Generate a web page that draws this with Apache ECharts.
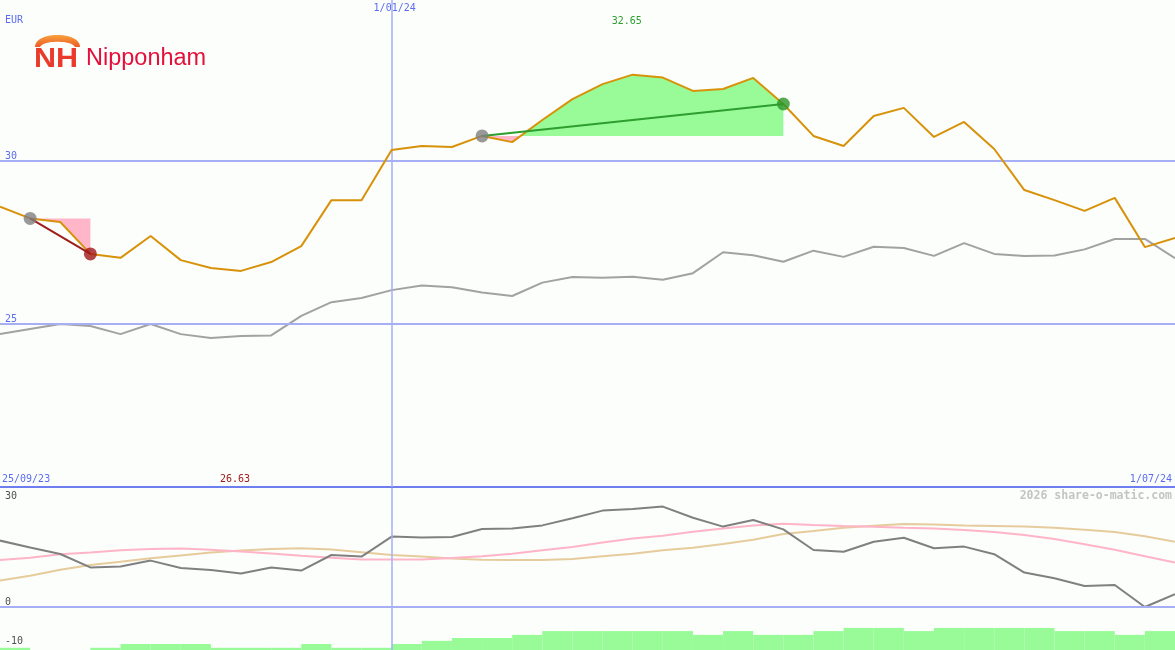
<!DOCTYPE html>
<html><head><meta charset="utf-8">
<script src="https://cdn.jsdelivr.net/npm/echarts@6/dist/echarts.min.js"></script>
<style>html,body{margin:0;padding:0;background:#fbfefb;overflow:hidden}#c{width:1175px;height:650px}</style>
</head><body><div id="c"></div>
<script>
// ---------- data ----------
const currency = 'EUR';
const companyName = 'Nipponham';
const logoMark = 'NH';
const watermark = '2026 share-o-matic.com';
const dateLabels = ['25/09/23', '1/01/24', '1/07/24'];
const dateLabelIdx = [0, 13, 39];
const mainTicks = [25, 30];
const lowerTicks = [30, 0, -10];
// weekly closing price (EUR)
const price = [28.60, 28.24, 28.13, 27.15, 27.03, 27.70, 26.96, 26.72, 26.63, 26.90,
  27.39, 28.80, 28.80, 30.34, 30.46, 30.43, 30.77, 30.58, 31.26, 31.90,
  32.36, 32.65, 32.56, 32.15, 32.21, 32.55, 31.75, 30.77, 30.46, 31.38,
  31.63, 30.74, 31.20, 30.37, 29.11, 28.80, 28.47, 28.87, 27.36, 27.64];
// comparison line (grey)
const benchmark = [24.69, 24.85, 25.00, 24.94, 24.69, 25.00, 24.69, 24.57, 24.63, 24.65,
  25.25, 25.67, 25.80, 26.04, 26.18, 26.13, 25.97, 25.86, 26.27, 26.44,
  26.42, 26.45, 26.36, 26.56, 27.20, 27.11, 26.91, 27.25, 27.06, 27.37,
  27.33, 27.09, 27.48, 27.15, 27.09, 27.10, 27.29, 27.61, 27.61, 27.02];
// lower panel oscillator and its averages
const oscillator = [16.6, 14.9, 13.25, 9.9, 10.1, 11.6, 9.75, 9.25, 8.4, 9.9,
  9.1, 13.0, 12.6, 17.6, 17.4, 17.5, 19.5, 19.6, 20.4, 22.2,
  24.1, 24.5, 25.1, 22.3, 20.1, 21.75, 19.4, 14.25, 13.8, 16.3,
  17.3, 14.7, 15.1, 13.2, 8.6, 7.2, 5.25, 5.5, 0.0, 3.2];
const oscAvgFast = [11.75, 12.3, 13.2, 13.6, 14.2, 14.5, 14.6, 14.3, 13.9, 13.4,
  12.8, 12.3, 11.9, 11.9, 11.9, 12.25, 12.7, 13.3, 14.2, 15.0,
  16.1, 17.1, 17.8, 18.8, 19.6, 20.4, 20.8, 20.5, 20.25, 20.05,
  19.8, 19.6, 19.25, 18.75, 18.0, 17.0, 15.7, 14.3, 12.7, 11.1];
const oscAvgSlow = [6.6, 7.8, 9.3, 10.5, 11.3, 12.2, 12.9, 13.6, 14.1, 14.5,
  14.7, 14.4, 13.7, 13.0, 12.6, 12.1, 11.8, 11.75, 11.75, 12.0,
  12.7, 13.3, 14.2, 14.8, 15.75, 16.8, 18.25, 19.0, 19.8, 20.3,
  20.75, 20.6, 20.4, 20.25, 20.1, 19.8, 19.3, 18.75, 17.7, 16.3];
// green strength bars, one per week interval
const strength = [0.7, 0, 0, 0.7, 1.9, 1.9, 1.9, 0.7, 0.7, 0.7,
  1.9, 0.7, 0.7, 1.9, 2.9, 3.8, 3.8, 4.8, 6, 6,
  6, 6, 6, 4.8, 6, 4.8, 4.8, 6, 7, 7,
  6, 7, 7, 7, 7, 6, 6, 4.8, 6];
// trades (start week, end week)
const tradeStart = [1, 16];
const tradeEnd = [3, 26];

// ---------- styles ----------
const C = {
  bg: '#fbfefb', price: '#d8920a', bench: '#a2a2a2', osc: '#808080', fast: '#ffb4c8', slow: '#e6cc9c',
  grid: '#a6aef4', border: '#6e7ef0', blueText: '#5c6cf0', darkText: '#505050',
  gainFill: '#98fb98', lossFill: '#ffb6c8', gainLine: '#2e9e2e', lossLine: '#a01c1c',
  startMark: '#808080', gainMark: '#2a962a', lossMark: '#a01818', bars: '#98fb98'
};
const MONO = "'DejaVu Sans Mono', monospace";

const chart = echarts.init(document.getElementById('c'), null, {renderer: 'canvas'});
const pts = arr => arr.map((v, i) => [i, v]);

function tradeSegments(s, e) {
  const base = price[s];
  const segs = [];
  let cur = [[s, base]];
  for (let i = s + 1; i <= e; i++) {
    const p = price[i - 1] - base, d = price[i] - base;
    if (p !== 0 && d !== 0 && Math.sign(p) !== Math.sign(d)) {
      const cx = i - 1 + p / (p - d);
      cur.push([cx, base]);
      segs.push(cur);
      cur = [[cx, base]];
    }
    cur.push([i, price[i]]);
  }
  segs.push(cur);
  return segs.map(seg => {
    const sum = seg.reduce((a, q) => a + (q[1] - base), 0);
    return {data: seg, base, gain: sum > 0};
  });
}

const series = [];
series.push({type: 'bar', xAxisIndex: 2, yAxisIndex: 2, data: strength, barCategoryGap: '0%', barGap: '0%',
  itemStyle: {color: C.bars}, silent: true, z: 1});
series.push({type: 'line', xAxisIndex: 1, yAxisIndex: 1, data: pts(oscAvgSlow), showSymbol: false,
  lineStyle: {color: C.slow, width: 2}, z: 2,
  markLine: {silent: true, symbol: 'none', label: {show: false}, animation: false,
    data: [
      {yAxis: 0, lineStyle: {color: C.grid, width: 2, type: 'solid'}},
      {xAxis: dateLabelIdx[1], lineStyle: {color: C.grid, width: 1.5, type: 'solid'}},
      {yAxis: lowerTicks[0], lineStyle: {color: C.border, width: 2, type: 'solid'}}
    ]}});
series.push({type: 'line', xAxisIndex: 1, yAxisIndex: 1, data: pts(oscAvgFast), showSymbol: false,
  lineStyle: {color: C.fast, width: 2}, z: 3});
series.push({type: 'line', xAxisIndex: 1, yAxisIndex: 1, data: pts(oscillator), showSymbol: false,
  lineStyle: {color: C.osc, width: 2}, z: 4});
series.push({type: 'line', xAxisIndex: 0, yAxisIndex: 0, data: pts(benchmark), showSymbol: false,
  lineStyle: {color: C.bench, width: 2}, z: 3,
  markLine: {silent: true, symbol: 'none', label: {show: false}, animation: false,
    lineStyle: {color: C.grid, width: 2, type: 'solid'},
    data: mainTicks.map(v => ({yAxis: v})).concat([{xAxis: dateLabelIdx[1], lineStyle: {color: C.grid, width: 1.5, type: 'solid'}}])}});
tradeStart.forEach((s, k) => {
  tradeSegments(s, tradeEnd[k]).forEach(seg => {
    series.push({type: 'line', xAxisIndex: 0, yAxisIndex: 0, data: seg.data, showSymbol: false, silent: true,
      lineStyle: {width: 0, opacity: 0},
      areaStyle: {origin: seg.base, color: seg.gain ? C.gainFill : C.lossFill, opacity: 1}, z: 4});
  });
});
series.push({type: 'line', xAxisIndex: 0, yAxisIndex: 0, data: pts(price), showSymbol: false,
  lineStyle: {color: C.price, width: 2}, z: 6});
tradeStart.forEach((s, k) => {
  const e = tradeEnd[k];
  const gain = price[e] > price[s];
  series.push({type: 'line', xAxisIndex: 0, yAxisIndex: 0, data: [[s, price[s]], [e, price[e]]], showSymbol: false,
    lineStyle: {color: gain ? C.gainLine : C.lossLine, width: 2}, z: 7});
  series.push({type: 'scatter', xAxisIndex: 0, yAxisIndex: 0, symbolSize: 13, z: 8,
    data: [{value: [s, price[s]], itemStyle: {color: C.startMark}},
           {value: [e, price[e]], itemStyle: {color: gain ? C.gainMark : C.lossMark}}]});
});

const n = price.length;
chart.setOption({
  animation: false,
  backgroundColor: C.bg,
  grid: [
    {left: 0, right: 0, top: 0, height: 487},
    {left: 0, right: 0, top: 487, height: 163}
  ],
  xAxis: [
    {type: 'value', gridIndex: 0, min: 0, max: n - 1, show: false},
    {type: 'value', gridIndex: 1, min: 0, max: n - 1, show: false},
    {type: 'category', gridIndex: 1, data: strength.map((_, i) => i), boundaryGap: true, show: false}
  ],
  yAxis: [
    {type: 'value', gridIndex: 0, min: 20, max: 34.94, show: false},
    {type: 'value', gridIndex: 1, min: -10.75, max: 30, show: false},
    {type: 'value', gridIndex: 1, min: 0, max: 51.7, show: false}
  ],
  series
});

// ---------- text overlays placed through the axes ----------
const P = (x, y) => chart.convertToPixel({xAxisIndex: 0, yAxisIndex: 0}, [x, y]);
const P2 = (x, y) => chart.convertToPixel({xAxisIndex: 1, yAxisIndex: 1}, [x, y]);
let maxI = 0, minI = 0;
price.forEach((v, i) => { if (v > price[maxI]) maxI = i; if (v < price[minI]) minI = i; });
const W = chart.getWidth(), H = chart.getHeight();
const yBorder = P2(0, lowerTicks[0])[1];
const txt = (text, x, y, color, align, extra) => Object.assign({type: 'text', x, y, silent: true,
  style: Object.assign({text, fill: color, font: '10px ' + MONO, textAlign: align || 'left', textVerticalAlign: 'middle'}, extra || {})});
const g = [];
g.push(txt(currency, 5, 20, C.blueText));
mainTicks.forEach(v => g.push(txt(String(v), 5, P(0, v)[1] - 5, C.blueText)));
lowerTicks.forEach((v, i) => {
  const y = i === 0 ? yBorder + 9 : P2(0, v)[1] - 5;
  g.push(txt(String(v), 5, Math.min(y, H - 9), C.darkText));
});
g.push(txt(dateLabels[1], P(dateLabelIdx[1], 30)[0] + 3, 8, C.blueText, 'center'));
g.push(txt(dateLabels[0], 2, yBorder - 8, C.blueText, 'left'));
g.push(txt(dateLabels[2], W - 3, yBorder - 8, C.blueText, 'right'));
g.push(txt(price[maxI].toFixed(2), P(maxI, 30)[0] - 6, 21, C.gainLine, 'center'));
g.push(txt(price[minI].toFixed(2), P(minI, 30)[0] - 6, yBorder - 8, C.lossLine, 'center'));
g.push(txt(watermark, W - 3, yBorder + 9, '#c4c4c4', 'right', {font: 'bold 11.5px ' + MONO}));
// logo: dome over "NH" + name
function bez(p0, p1, p2, p3, t) {
  const u = 1 - t;
  return [u*u*u*p0[0] + 3*u*u*t*p1[0] + 3*u*t*t*p2[0] + t*t*t*p3[0],
          u*u*u*p0[1] + 3*u*u*t*p1[1] + 3*u*t*t*p2[1] + t*t*t*p3[1]];
}
const dome = [];
for (let i = 0; i <= 24; i++) dome.push(bez([35, 47], [35, 31], [80, 31], [80, 47], i / 24));
for (let i = 24; i >= 0; i--) dome.push(bez([40, 47], [43, 40], [72, 40], [75, 47], i / 24));
g.push({type: 'polygon', silent: true, shape: {points: dome},
  style: {fill: new echarts.graphic.LinearGradient(0, 0, 0, 1, [{offset: 0, color: '#f7a23c'}, {offset: 1, color: '#ee5a26'}])}});
g.push({type: 'text', x: 34, y: 46, scaleX: 1.13, silent: true,
  style: {text: logoMark, font: 'bold 27px "Liberation Sans", Arial, sans-serif', textVerticalAlign: 'top', fill: '#ea3a2c'}});
g.push({type: 'text', x: 86, y: 59, silent: true,
  style: {text: companyName, font: '23.5px "Liberation Sans", Arial, sans-serif', fill: '#e4103c', textVerticalAlign: 'middle'}});
chart.setOption({graphic: g});
</script>
</body></html>
